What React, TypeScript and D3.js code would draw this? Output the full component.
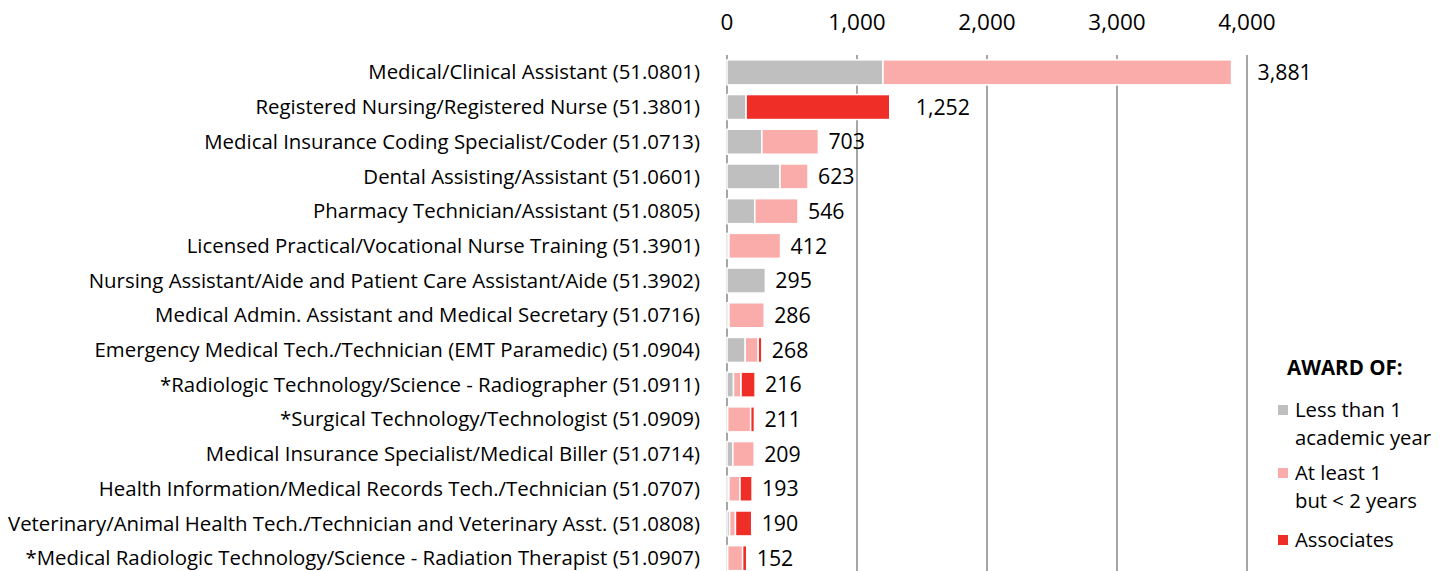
import React from "react";
import * as d3 from "d3";

const categories = [
  "Medical/Clinical Assistant (51.0801)",
  "Registered Nursing/Registered Nurse (51.3801)",
  "Medical Insurance Coding Specialist/Coder (51.0713)",
  "Dental Assisting/Assistant (51.0601)",
  "Pharmacy Technician/Assistant (51.0805)",
  "Licensed Practical/Vocational Nurse Training (51.3901)",
  "Nursing Assistant/Aide and Patient Care Assistant/Aide (51.3902)",
  "Medical Admin. Assistant and Medical Secretary (51.0716)",
  "Emergency Medical Tech./Technician (EMT Paramedic) (51.0904)",
  "*Radiologic Technology/Science - Radiographer (51.0911)",
  "*Surgical Technology/Technologist (51.0909)",
  "Medical Insurance Specialist/Medical Biller (51.0714)",
  "Health Information/Medical Records Tech./Technician (51.0707)",
  "Veterinary/Animal Health Tech./Technician and Veterinary Asst. (51.0808)",
  "*Medical Radiologic Technology/Science - Radiation Therapist (51.0907)",
];
const lessThan1 = [1200, 147, 268, 408, 214, 15, 295, 15, 140, 50, 5, 45, 15, 20, 5];
const atLeast1 = [2681, 0, 435, 215, 332, 397, 0, 271, 100, 58, 177, 164, 85, 45, 115];
const associates = [0, 1105, 0, 0, 0, 0, 0, 0, 28, 108, 29, 0, 93, 125, 32];
const totals = [3881, 1252, 703, 623, 546, 412, 295, 286, 268, 216, 211, 209, 193, 190, 152];
const ticks = [0, 1000, 2000, 3000, 4000];
const seriesNames = ["Less than 1|academic year", "At least 1|but < 2 years", "Associates"];
const colors = ["#BFBFBF", "#F9ACA9", "#EE2E27"];

const W = 1445, H = 571;
const FONT = "'Open Sans', Lato, sans-serif";

export default function App() {
  const x = d3.scaleLinear().domain([0, 4000]).range([727, 1247]);
  const y = d3.scaleBand<string>().domain(categories).range([55, 575.5]).paddingInner(0.28).paddingOuter(0.14);
  const series = [lessThan1, atLeast1, associates];
  const rows = categories.map((c, i) => {
    let acc = 0;
    return series.map((s, k) => {
      const x0 = acc;
      acc += s[i];
      return { k, x0, x1: acc };
    });
  });
  const fmt = d3.format(",");
  const legendY = [410, 473, 540];
  return (
    <svg width={W} height={H} style={{ position: "absolute", left: 0, top: 0 }} fontFamily={FONT}>
      {ticks.map((t) => (
        <g key={t}>
          <line x1={x(t)} x2={x(t)} y1={55} y2={H} stroke="#A6A6A6" strokeWidth={2} />
          <text x={x(t)} y={30} textAnchor="middle" fontSize={22.5} fill="#000">{fmt(t)}</text>
        </g>
      ))}
      {categories.map((c, i) => {
        const yy = y(c)!;
        const bh = y.bandwidth();
        return (
          <g key={c}>
            <text x={700} y={yy + bh / 2} dy="0.35em" textAnchor="end" fontSize={20.4} fill="#000">{c}</text>
            {rows[i].map((seg) =>
              seg.x1 > seg.x0 ? (
                <rect key={seg.k} x={x(seg.x0)} y={yy} width={x(seg.x1) - x(seg.x0)} height={bh}
                  fill={colors[seg.k]} stroke="#fff" strokeWidth={1.5} />
              ) : null
            )}
            <text x={x(totals[i]) + (totals[i] > 1000 ? 26 : 10)} y={yy + bh / 2} dy="0.36em" fontSize={21.3} fill="#000">{fmt(totals[i])}</text>
          </g>
        );
      })}
      <text x={1287} y={375} fontSize={20.5} fontWeight="bold" fill="#000">AWARD OF:</text>
      {seriesNames.map((n, k) => {
        const lines = n.split("|");
        return (
          <g key={n}>
            <rect x={1278} y={legendY[k] - 5} width={10} height={10} fill={colors[k]} />
            {lines.map((l, j) => (
              <text key={j} x={1295} y={legendY[k] + 7 + j * 28} fontSize={20.3} fill="#000">{l}</text>
            ))}
          </g>
        );
      })}
    </svg>
  );
}
